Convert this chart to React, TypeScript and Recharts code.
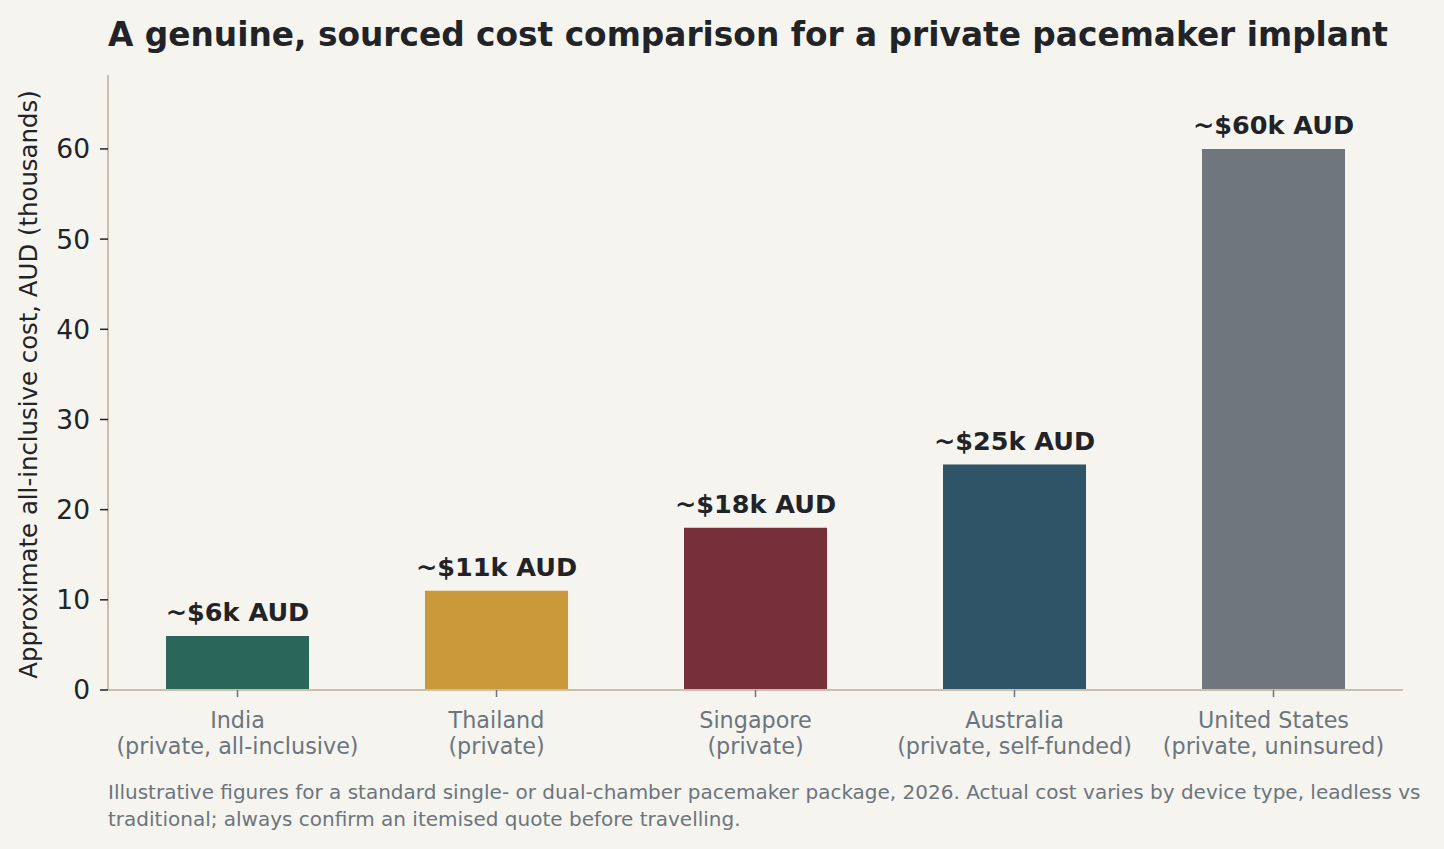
import { BarChart, Bar, XAxis, YAxis, Cell, LabelList } from 'recharts';

const countries = ['India', 'Thailand', 'Singapore', 'Australia', 'United States'];
const notes = ['(private, all-inclusive)', '(private)', '(private)', '(private, self-funded)', '(private, uninsured)'];
const costs = [6, 11, 18, 25, 60];
const costLabels = ['~$6k AUD', '~$11k AUD', '~$18k AUD', '~$25k AUD', '~$60k AUD'];
const barColors = ['#2a6659', '#c9993a', '#772f3a', '#2f5467', '#6f767d'];
const yTicks = [0, 10, 20, 30, 40, 50, 60];

const FONT = '"DejaVu Sans", sans-serif';
const BG = '#f5f4ef';
const SPINE = '#c8c0aa';
const GREY = '#6c757d';
const DARK = '#212327';

const data = countries.map((c, i) => ({
  name: c,
  note: notes[i],
  cost: costs[i],
  label: costLabels[i],
}));

// two-line category label: country, then the care setting
function CountryTick(props: any) {
  const { x, y, payload, index } = props;
  return (
    <text x={x} y={y} textAnchor="middle" fill={GREY} fontFamily={FONT} fontSize={22.3}>
      <tspan x={x} y={y + 28.5}>{payload.value}</tspan>
      <tspan x={x} y={y + 54.5}>{notes[index]}</tspan>
    </text>
  );
}

function BarLabel(props: any) {
  const { x, y, width, index } = props;
  return (
    <text
      x={x + width / 2}
      y={y - 15}
      textAnchor="middle"
      fill={DARK}
      fontFamily={FONT}
      fontWeight="bold"
      fontSize={25.5}
    >
      {costLabels[index]}
    </text>
  );
}

export default function App() {
  return (
    <div
      style={{
        position: 'absolute',
        left: 0,
        top: 0,
        width: 1444,
        height: 849,
        background: BG,
        fontFamily: FONT,
        overflow: 'hidden',
      }}
    >
      <div
        style={{
          position: 'absolute',
          left: 108,
          top: 14.5,
          fontSize: 32.8,
          fontWeight: 'bold',
          color: DARK,
          whiteSpace: 'nowrap',
          lineHeight: '40px',
        }}
      >
        A genuine, sourced cost comparison for a private pacemaker implant
      </div>

      <BarChart
        width={1444}
        height={849}
        data={data}
        margin={{ top: 75, right: 41, bottom: 0, left: 0 }}
        barCategoryGap="22.4%"
        style={{ position: 'absolute', left: 0, top: 0 }}
      >
        <XAxis
          dataKey="name"
          height={159}
          axisLine={{ stroke: SPINE, strokeWidth: 2 }}
          tickLine={{ stroke: GREY, strokeWidth: 1.5 }}
          tickSize={7}
          tick={<CountryTick />}
          interval={0}
        />
        <YAxis
          width={108}
          domain={[0, 68.2]}
          ticks={yTicks}
          axisLine={{ stroke: SPINE, strokeWidth: 2 }}
          tickLine={{ stroke: DARK, strokeWidth: 1.5 }}
          tickSize={8}
          tickMargin={10}
          tick={{ fill: DARK, fontFamily: FONT, fontSize: 26.5 }}
          label={{
            value: 'Approximate all-inclusive cost, AUD (thousands)',
            content: () => (
              <text
                x={0}
                y={0}
                transform="translate(37, 384.5) rotate(-90)"
                textAnchor="middle"
                fill={DARK}
                fontFamily={FONT}
                fontSize={24.4}
              >
                Approximate all-inclusive cost, AUD (thousands)
              </text>
            ),
          }}
        />
        <Bar dataKey="cost" isAnimationActive={false}>
          {data.map((d, i) => (
            <Cell key={d.name} fill={barColors[i]} />
          ))}
          <LabelList dataKey="label" content={<BarLabel />} />
        </Bar>
      </BarChart>

      <div
        style={{
          position: 'absolute',
          left: 108,
          top: 778.5,
          fontSize: 20,
          color: GREY,
          lineHeight: '27px',
          whiteSpace: 'nowrap',
        }}
      >
        Illustrative figures for a standard single- or dual-chamber pacemaker package, 2026. Actual cost varies by device type, leadless vs
        <br />
        traditional; always confirm an itemised quote before travelling.
      </div>
    </div>
  );
}
